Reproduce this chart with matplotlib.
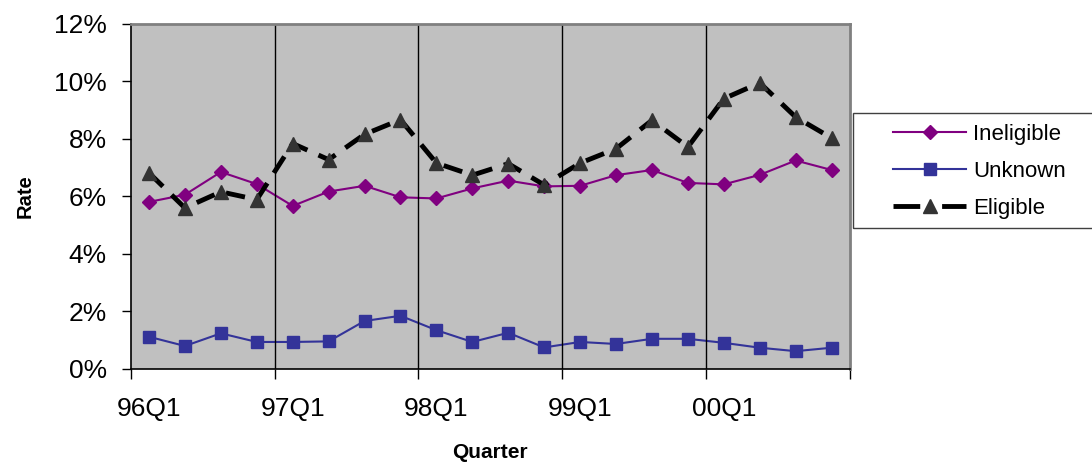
import matplotlib.pyplot as plt
from matplotlib.lines import Line2D
from matplotlib.patches import Rectangle
from matplotlib.ticker import FuncFormatter

plt.rcParams['font.family'] = ['Liberation Sans', 'DejaVu Sans']

# quarterly rates (%), 96Q1 .. 00Q4
year_labels = ['96Q1', '97Q1', '98Q1', '99Q1', '00Q1']
ineligible = [5.81, 6.06, 6.85, 6.43, 5.67, 6.17, 6.37, 5.97, 5.93, 6.28,
              6.55, 6.35, 6.37, 6.74, 6.92, 6.47, 6.42, 6.75, 7.25, 6.92]
unknown = [1.12, 0.80, 1.24, 0.94, 0.94, 0.96, 1.67, 1.85, 1.35, 0.94,
           1.26, 0.75, 0.94, 0.87, 1.05, 1.05, 0.91, 0.74, 0.62, 0.74]
eligible = [6.82, 5.60, 6.16, 5.89, 7.84, 7.28, 8.16, 8.67, 7.16, 6.74,
            7.14, 6.40, 7.16, 7.66, 8.65, 7.72, 9.40, 9.95, 8.76, 8.03]

x = [i + 0.5 for i in range(len(ineligible))]

fig = plt.figure(figsize=(10.92, 4.62), dpi=100)
ax = fig.add_axes([0.12, 0.2013, 0.658, 0.747])
ax.set_facecolor('#c0c0c0')

l1, = ax.plot(x, ineligible, color='#800080', lw=1.5, marker='D', ms=7,
              label='Ineligible')
l2, = ax.plot(x, unknown, color='#333399', lw=1.5, marker='s', ms=9,
              label='Unknown')
ax.plot(x, eligible, color='black', lw=3.5, dashes=(4, 2.5),
        marker='^', ms=10, mfc='#333333', mec='#333333')
# legend proxy with longer dashes so it reads "dash - triangle - dash"
l3 = Line2D([], [], color='black', lw=3.5, dashes=(5.5, 4.5), marker='^',
            ms=10, mfc='#333333', mec='#333333', label='Eligible')

ax.set_xlim(0, 20)
ax.set_ylim(0, 12)
ax.set_yticks(range(0, 13, 2))
ax.yaxis.set_major_formatter(FuncFormatter(lambda v, p: '%d%%' % v))

ax.set_xticks(range(0, 21, 4))
ax.set_xticklabels([])
ax.set_xticks([0.5 + 4 * i for i in range(5)], minor=True)
ax.set_xticklabels(year_labels, minor=True)
ax.tick_params(axis='x', which='minor', length=0, labelsize=19, pad=20)
ax.tick_params(axis='x', which='major', length=7, width=1, direction='out')
ax.tick_params(axis='y', length=6.5, width=1, direction='out', labelsize=19,
               pad=11)

for v in range(4, 20, 4):
    ax.axvline(v, color='black', lw=1)

for s in ['top', 'right']:
    ax.spines[s].set_color('#808080')
    ax.spines[s].set_linewidth(2)
for s in ['left', 'bottom']:
    ax.spines[s].set_color('black')
    ax.spines[s].set_linewidth(1.2)

ax.set_xlabel('Quarter', fontsize=15, fontweight='bold', labelpad=16)
ax.set_ylabel('Rate', fontsize=14.5, fontweight='bold', labelpad=14)

# legend box runs off the right edge of the figure
fig.patches.append(Rectangle((853 / 1092, 1 - 228 / 462), 0.25, 115 / 462,
                             transform=fig.transFigure, fill=False,
                             edgecolor='#404040', lw=1))
leg = fig.legend(handles=[l1, l2, l3], loc='upper left',
                 bbox_to_anchor=(893 / 1092, 1 - 124 / 462),
                 fontsize=16, frameon=False, borderpad=0, borderaxespad=0,
                 handlelength=3.3, handletextpad=0.3, labelspacing=0.72)

fig.savefig('out.png', dpi=100)
